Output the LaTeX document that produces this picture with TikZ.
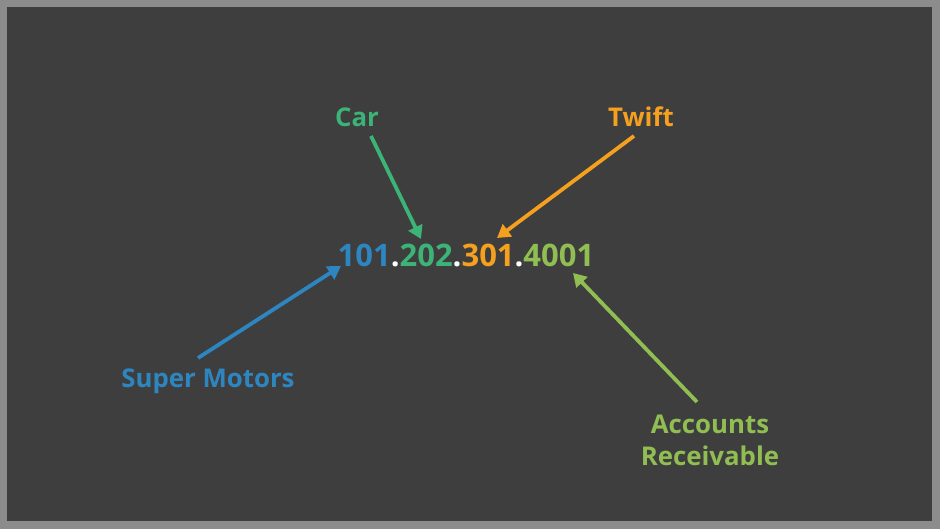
\documentclass[tikz,border=0pt]{standalone}
\usepackage{fontspec}
\setmainfont{Open Sans}
\usetikzlibrary{arrows.meta}
\definecolor{frame}{RGB}{140,140,140}
\definecolor{bg}{RGB}{62,62,62}
\definecolor{cblue}{RGB}{46,134,193}
\definecolor{cgreen}{RGB}{60,180,120}
\definecolor{corange}{RGB}{245,160,30}
\definecolor{clime}{RGB}{145,190,82}
\tikzset{
  lbl/.style={font=\fontsize{25.8}{30}\selectfont\bfseries, inner sep=0pt, align=center},
  arr/.style={line width=3.8pt, -{Triangle[length=13pt,width=15pt]}, shorten >=0pt},
}
\begin{document}
\begin{tikzpicture}[x=1pt,y=-1pt]
\useasboundingbox (0,0) rectangle (940,529);
\fill[frame] (0,0) rectangle (940,529);
\fill[bg] (7,7) rectangle (932,521);
\node[inner sep=0pt, font=\fontsize{31}{36}\selectfont\bfseries] (num) at (466,255)
  {\textcolor{cblue}{101}\textcolor{white}{.}\textcolor{cgreen}{202}\textcolor{white}{.}\textcolor{corange}{301}\textcolor{white}{.}\textcolor{clime}{4001}};
\node[lbl, text=cgreen] (car) at (357,117) {Car};
\node[lbl, text=corange] (twift) at (641,117) {Twift};
\node[lbl, text=cblue] (sm) at (208,381) {Super Motors};
\node[lbl, text=clime, font=\fontsize{25.8}{32}\selectfont\bfseries] (ar) at (710,440) {Accounts\\Receivable};
\coordinate (carS) at (371,136);
\coordinate (carE) at (421,239);
\coordinate (twS) at (634,136);
\coordinate (twE) at (497,238);
\coordinate (smS) at (198,358);
\coordinate (smE) at (341,266);
\coordinate (arS) at (697,402);
\coordinate (arE) at (573,273);
\draw[arr, cgreen] (carS) -- (carE);
\draw[arr, corange] (twS) -- (twE);
\draw[arr, cblue] (smS) -- (smE);
\draw[arr, clime] (arS) -- (arE);
\end{tikzpicture}
\end{document}
